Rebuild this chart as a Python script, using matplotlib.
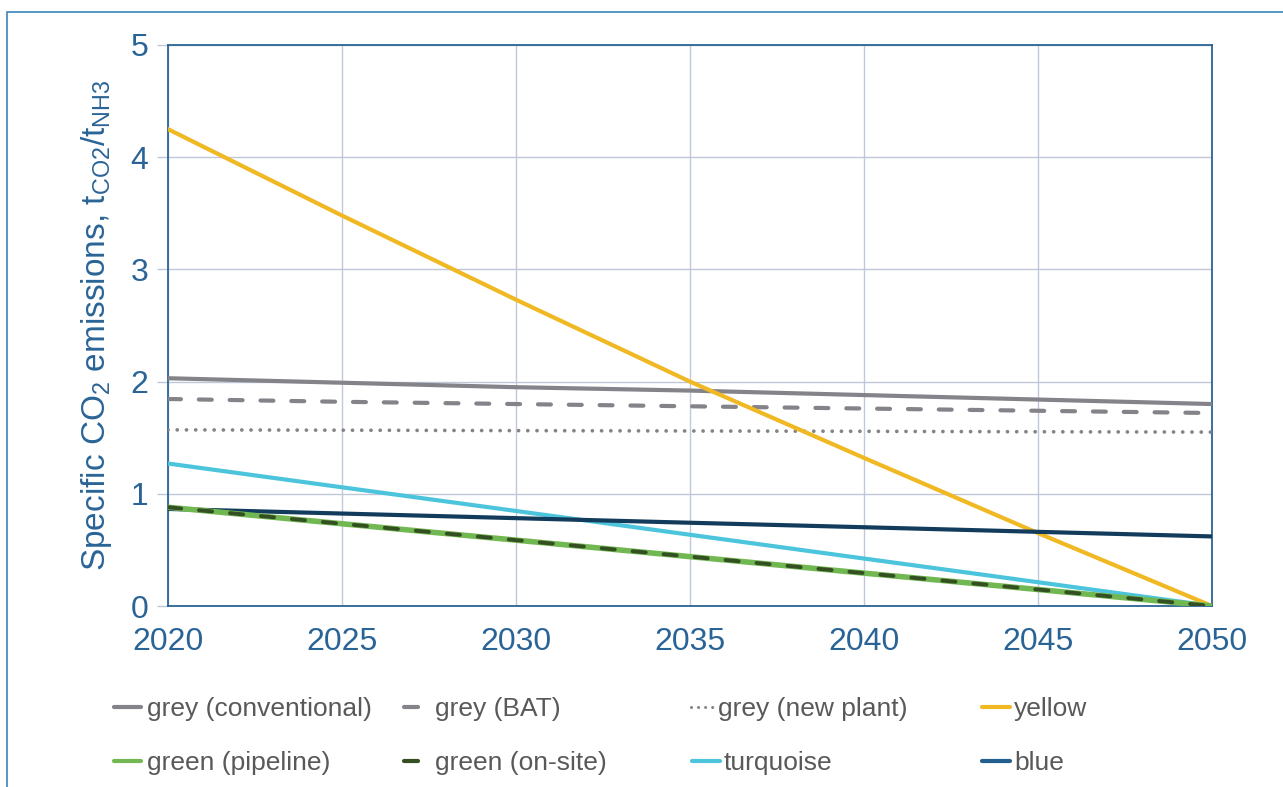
import matplotlib
matplotlib.use("Agg")
import matplotlib.pyplot as plt
from matplotlib.lines import Line2D
from matplotlib.patches import Rectangle

plt.rcParams['font.family'] = ['Liberation Sans', 'DejaVu Sans']
plt.rcParams['mathtext.fontset'] = 'custom'
plt.rcParams['mathtext.rm'] = 'Liberation Sans'
plt.rcParams['mathtext.it'] = 'Liberation Sans'

# Years and specific emissions (t CO2 per t NH3) by hydrogen route
years = [2020, 2025, 2030, 2035, 2040, 2045, 2050]
grey_conventional = [2.03, 1.99, 1.95, 1.92, 1.88, 1.84, 1.80]
grey_bat = [1.845, 1.82, 1.80, 1.78, 1.76, 1.74, 1.72]
grey_new_plant = [1.57, 1.567, 1.563, 1.56, 1.557, 1.553, 1.55]
yellow = [4.25, 3.48, 2.73, 2.00, 1.32, 0.65, 0.0]
green_pipeline = [0.88, 0.733, 0.587, 0.44, 0.293, 0.147, 0.0]
green_onsite = [0.88, 0.733, 0.587, 0.44, 0.293, 0.147, 0.0]
turquoise = [1.27, 1.058, 0.847, 0.635, 0.423, 0.212, 0.0]
blue = [0.865, 0.824, 0.783, 0.742, 0.702, 0.661, 0.62]

x_ticks = [2020, 2025, 2030, 2035, 2040, 2045, 2050]
y_ticks = [0, 1, 2, 3, 4, 5]

GREY = '#838389'
YELLOW = '#F0B823'
GREEN = '#72B852'
DKGREEN = '#344F22'
TURQ = '#4CC5DC'
BLUE = '#123B5C'
BLUE_LEG = '#225F8E'
AXBLUE = '#2A6496'
GRID = '#BFC8D8'
TXT = '#595959'

W, H = 1283, 787
fig = plt.figure(figsize=(W / 100, H / 100), dpi=100)
fig.patches.append(Rectangle((7 / W, -0.05), 1.2, 1.05 - 12.5 / H,
                             transform=fig.transFigure, fill=False,
                             edgecolor='#4A90C0', lw=1.3, zorder=0))
ax = fig.add_axes([168 / W, 1 - 606 / H, (1212 - 168) / W, (606 - 45) / H])

lw = 3.0
ax.plot(years, grey_conventional, color=GREY, lw=lw, solid_capstyle='round', zorder=3)
ax.plot(years, grey_bat, color=GREY, lw=lw, dashes=(3.1, 4.3), dash_capstyle='round', zorder=3)
ax.plot(years, grey_new_plant, color=GREY, lw=2.7, dashes=(0.01, 2.45), dash_capstyle='round', zorder=3)
ax.plot(years, yellow, color=YELLOW, lw=lw, solid_capstyle='round', zorder=3)
ax.plot(years, turquoise, color=TURQ, lw=lw, solid_capstyle='round', zorder=3)
ax.plot(years, green_pipeline, color=GREEN, lw=4.0, solid_capstyle='round', zorder=4)
ax.plot(years, green_onsite, color=DKGREEN, lw=2.8, dashes=(3.4, 4.6), dash_capstyle='round', zorder=5)
ax.plot(years, blue, color=BLUE, lw=lw, solid_capstyle='round', zorder=3)

ax.set_xlim(2020, 2050)
ax.set_ylim(0, 5)
ax.set_xticks(x_ticks)
ax.set_yticks(y_ticks)
ax.grid(True, color=GRID, lw=1.0, zorder=0)
ax.set_axisbelow(True)
for s in ax.spines.values():
    s.set_color(AXBLUE)
    s.set_linewidth(1.3)
ax.tick_params(axis='y', length=8, width=1.0, color=GRID, labelsize=23,
               labelcolor=AXBLUE, pad=6)
ax.tick_params(axis='x', length=0, labelsize=23, labelcolor=AXBLUE, pad=15)

ax.set_ylabel(r'Specific CO$_2$ emissions, t$_{\mathrm{CO2}}$/t$_{\mathrm{NH3}}$',
              fontsize=24, color=AXBLUE, labelpad=12)

# Legend: one single-entry legend per slot, laid out as 2 rows x 4 columns
FS = 19
EM = FS * 100 / 72  # font size in pixels

labels = ['grey (conventional)', 'grey (BAT)', 'grey (new plant)', 'yellow',
          'green (pipeline)', 'green (on-site)', 'turquoise', 'blue']
handles = [
    Line2D([], [], color=GREY, lw=3, solid_capstyle='round'),
    Line2D([], [], color=GREY, lw=3, solid_capstyle='round'),
    Line2D([], [], color=GREY, lw=2.2, dashes=(0.01, 2.3), dash_capstyle='round'),
    Line2D([], [], color=YELLOW, lw=3, solid_capstyle='round'),
    Line2D([], [], color=GREEN, lw=3, solid_capstyle='round'),
    Line2D([], [], color=DKGREEN, lw=3, solid_capstyle='round'),
    Line2D([], [], color=TURQ, lw=3, solid_capstyle='round'),
    Line2D([], [], color=BLUE_LEG, lw=3, solid_capstyle='round'),
]
# (handle left px, handle length px, text left px)
slots = [(114, 27, 147), (404, 14, 435), (691, 24, 718), (982, 28, 1014),
         (114, 27, 147), (404, 14, 435), (692, 28, 724), (982, 28, 1014)]
rows = [709, 763]
for i, (h, lab) in enumerate(zip(handles, labels)):
    hx, hl, tx = slots[i]
    y = rows[i // 4]
    fig.legend([h], [lab], loc='center left',
               bbox_to_anchor=(hx / W, 1 - y / H),
               frameon=False, fontsize=FS, labelcolor=TXT,
               handlelength=hl / EM, handletextpad=(tx - hx - hl) / EM,
               borderpad=0, borderaxespad=0)

fig.savefig('out.png', dpi=100)
